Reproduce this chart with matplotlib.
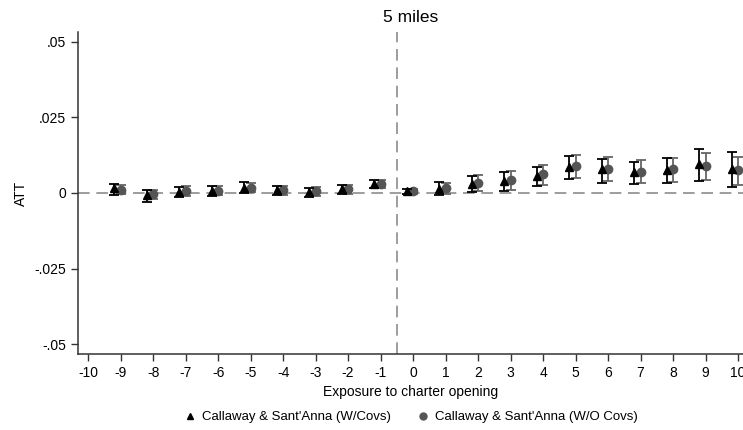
import numpy as np
import matplotlib.pyplot as plt
from matplotlib.lines import Line2D

plt.rcParams['font.family'] = ['Liberation Sans', 'DejaVu Sans']

# event time relative to charter opening
periods = list(range(-9, 11))

# Callaway & Sant'Anna with covariates
att_cov = [0.0015, -0.0008, 0.0003, 0.0006, 0.0017, 0.0009, 0.0003, 0.0012, 0.0029,
           0.0005, 0.0013, 0.0031, 0.0040, 0.0055, 0.0085, 0.0078, 0.0068, 0.0076, 0.0095, 0.0080]
lo_cov = [-0.0008, -0.0030, -0.0014, -0.0010, 0.0000, -0.0006, -0.0012, -0.0004, 0.0015,
          -0.0003, -0.0007, 0.0003, 0.0008, 0.0023, 0.0045, 0.0034, 0.0029, 0.0032, 0.0041, 0.0021]
hi_cov = [0.0031, 0.0011, 0.0021, 0.0022, 0.0035, 0.0024, 0.0018, 0.0028, 0.0042,
          0.0013, 0.0035, 0.0057, 0.0068, 0.0086, 0.0121, 0.0114, 0.0104, 0.0117, 0.0145, 0.0135]

# Callaway & Sant'Anna without covariates
att_nocov = [0.0011, -0.0004, 0.0006, 0.0008, 0.0018, 0.0009, 0.0005, 0.0013, 0.0029,
             0.0006, 0.0015, 0.0034, 0.0042, 0.0062, 0.0088, 0.0081, 0.0070, 0.0078, 0.0089, 0.0076]
lo_nocov = [-0.0004, -0.0021, -0.0010, -0.0008, 0.0002, -0.0006, -0.0010, -0.0002, 0.0016,
            -0.0002, -0.0003, 0.0006, 0.0011, 0.0028, 0.0051, 0.0040, 0.0032, 0.0037, 0.0043, 0.0026]
hi_nocov = [0.0026, 0.0011, 0.0022, 0.0024, 0.0034, 0.0024, 0.0020, 0.0028, 0.0042,
            0.0014, 0.0032, 0.0060, 0.0072, 0.0092, 0.0127, 0.0120, 0.0109, 0.0117, 0.0131, 0.0120]

x = np.array(periods, dtype=float)
att_cov = np.array(att_cov)
att_nocov = np.array(att_nocov)

fig = plt.figure(figsize=(7.43, 4.30), dpi=100)
ax = fig.add_axes([78 / 743, 1 - 354 / 430, 1 - 78 / 743, (354 - 32) / 430])

ax.axhline(0, color='#8c8c8c', lw=1.2, ls=(0, (7, 4)), zorder=1)
ax.axvline(-0.5, color='#8c8c8c', lw=1.2, ls=(0, (7, 4)), zorder=1)

ax.errorbar(x - 0.2, att_cov,
            yerr=[att_cov - np.array(lo_cov), np.array(hi_cov) - att_cov],
            fmt='^', color='black', ms=6, ecolor='black', elinewidth=1.3,
            capsize=3.5, capthick=1.3, zorder=3)
ax.errorbar(x, att_nocov,
            yerr=[att_nocov - np.array(lo_nocov), np.array(hi_nocov) - att_nocov],
            fmt='o', color='#555555', ms=6, ecolor='#666666', elinewidth=1.3,
            capsize=3.5, capthick=1.3, zorder=2)

ax.set_xlim(-10.31, 10.15)
ax.set_ylim(-0.0533, 0.0533)
ax.set_xticks(range(-10, 11))
ax.set_xticklabels([str(v) for v in range(-10, 11)])
ax.set_yticks([0.05, 0.025, 0, -0.025, -0.05])
ax.set_yticklabels(['.05', '.025', '0', '-.025', '-.05'])

for side in ['top', 'right']:
    ax.spines[side].set_visible(False)
for side in ['left', 'bottom']:
    ax.spines[side].set_color('#333333')
    ax.spines[side].set_linewidth(1.1)
ax.tick_params(axis='both', colors='#333333', labelcolor='black', labelsize=10,
               length=5, width=1.0, direction='out')

ax.set_xlabel('Exposure to charter opening', fontsize=10, labelpad=4)
ax.set_ylabel('ATT', fontsize=10, labelpad=5)
ax.set_title('5 miles', fontsize=12.5, pad=7)

handles = [Line2D([], [], marker='^', color='black', ls='none', ms=5),
           Line2D([], [], marker='o', color='#555555', ls='none', ms=5)]
fig.legend(handles, ["Callaway & Sant'Anna (W/Covs)", "Callaway & Sant'Anna (W/O Covs)"],
           loc='center', bbox_to_anchor=(410 / 743, 1 - 417 / 430), ncol=2,
           frameon=False, fontsize=9.5, handletextpad=0.3, columnspacing=1.8,
           handlelength=1.2)

fig.savefig('out.png', dpi=100)
